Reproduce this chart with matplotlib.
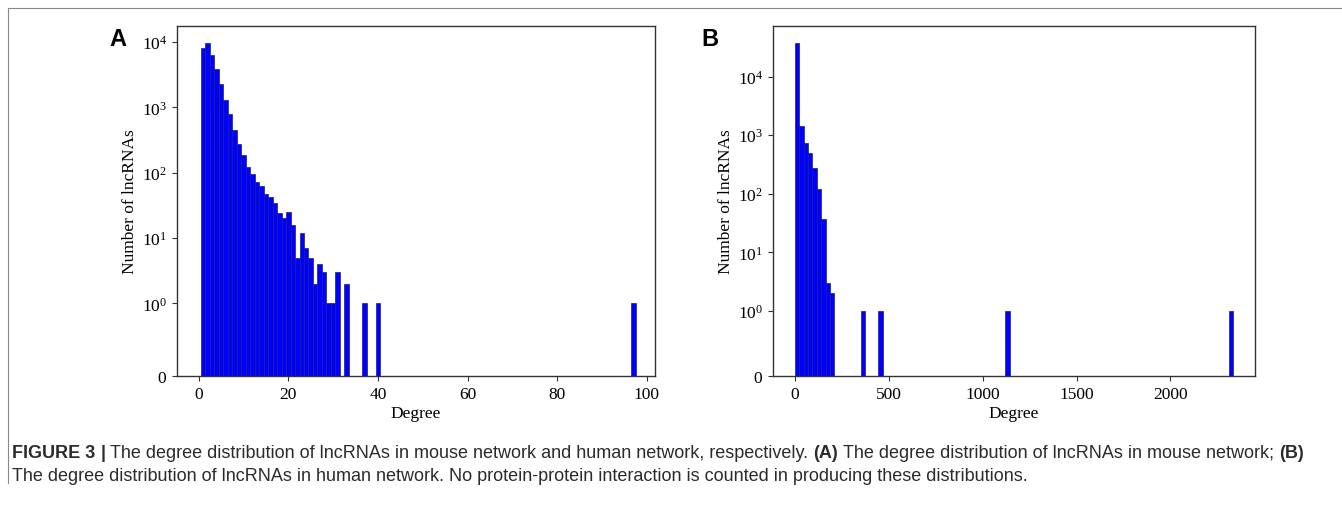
import matplotlib
matplotlib.use("Agg")
import matplotlib.pyplot as plt

# ---------------- data ----------------
mouse_degree = list(range(1, 32)) + [33, 37, 40, 97]
mouse_count = [8040, 9800, 6320, 3830, 2260, 1300, 784, 451, 272, 186,
               124, 95, 72, 63, 47, 43, 34, 24, 20, 25,
               16, 5, 12, 7, 5, 2, 4, 3, 1, 1,
               3, 2, 1, 1, 1]

human_bin_width = 23.33
human_bin_start = [0, 23.33, 46.67, 70.0, 93.33, 116.67, 140.0, 163.33, 186.67,
                   350.0, 443.33, 1120.0, 2310.0]
human_count = [38000, 1460, 730, 490, 276, 121, 37, 3, 2, 1, 1, 1, 1]

x_ticks_a = [0, 20, 40, 60, 80, 100]
x_ticks_b = [0, 500, 1000, 1500, 2000]

xlabel = "Degree"
ylabel = "Number of lncRNAs"
panel_labels = ["A", "B"]

caption_line1 = [("FIGURE 3", "bold"), ("|", "bold"),
                 ("The degree distribution of lncRNAs in mouse network and human network, respectively.", "normal"),
                 ("(A)", "bold"),
                 ("The degree distribution of lncRNAs in mouse network;", "normal"),
                 ("(B)", "bold")]
caption_line2 = [("The degree distribution of lncRNAs in human network. No protein-protein interaction is counted in producing these distributions.", "normal")]

# ---------------- style ----------------
serif = "Liberation Serif"
plt.rcParams["font.family"] = [serif, "DejaVu Serif"]
plt.rcParams["mathtext.fontset"] = "custom"
plt.rcParams["mathtext.rm"] = serif
plt.rcParams["mathtext.it"] = serif + ":italic"
plt.rcParams["mathtext.bf"] = serif + ":bold"

W, H = 1342, 506
fig = plt.figure(figsize=(W / 100, H / 100), dpi=100)

def px_axes(l, t, r, b):
    return fig.add_axes([l / W, 1 - b / H, (r - l) / W, (b - t) / H])

axA = px_axes(177, 27, 655, 377)
axB = px_axes(773, 27, 1255, 377)

bar_color = "#0000ff"
edge_color = "#1c1c7a"
tick_fs = 12.5

axA.bar(mouse_degree, mouse_count, width=1.0, color=bar_color,
        edgecolor=edge_color, linewidth=0.5)
axA.set_yscale("symlog", linthresh=1)
axA.set_xlim(-4.85, 101.85)
axA.set_xticks(x_ticks_a)

axB.bar(human_bin_start, human_count, width=human_bin_width, align="edge",
        color=bar_color, edgecolor=edge_color, linewidth=0.5)
axB.set_yscale("symlog", linthresh=1)
axB.set_xticks(x_ticks_b)

for ax in (axA, axB):
    ax.set_xlabel(xlabel, fontsize=tick_fs, labelpad=2)
    ax.set_ylabel(ylabel, fontsize=tick_fs, labelpad=3)
    ax.tick_params(axis="both", labelsize=tick_fs, length=3.5, width=0.8,
                   color="#333333")
    ax.minorticks_off()
    for s in ax.spines.values():
        s.set_color("#333333")
        s.set_linewidth(1.0)

fig.text(118 / W, 1 - 39 / H, panel_labels[0], fontsize=17, fontweight="bold",
         family=["Liberation Sans", "DejaVu Sans"], ha="center", va="center")
fig.text(710 / W, 1 - 39 / H, panel_labels[1], fontsize=17, fontweight="bold",
         family=["Liberation Sans", "DejaVu Sans"], ha="center", va="center")

# frame lines
fig.add_artist(plt.Line2D([8 / W, 1], [1 - 9 / H, 1 - 9 / H], color="#888888",
                          linewidth=0.8, transform=fig.transFigure))
fig.add_artist(plt.Line2D([8 / W, 8 / W], [1 - 9 / H, 1 - 484 / H],
                          color="#888888", linewidth=0.8,
                          transform=fig.transFigure))

# caption
cap_family = ["Liberation Sans", "DejaVu Sans"]
cap_color = "#2b2b2b"
renderer = fig.canvas.get_renderer()

def text_w(s, weight, fs):
    t = fig.text(0, 0, s, fontsize=fs, fontweight=weight, family=cap_family)
    w = t.get_window_extent(renderer).width
    t.remove()
    return w

def runs_width(runs, fs):
    total = 0
    for i, (s, wt) in enumerate(runs):
        total += text_w(s, wt, fs)
        if i < len(runs) - 1:
            total += text_w("x x", wt, fs) - text_w("xx", wt, fs)
    return total

def draw_runs(x_px, base_px, runs, fs):
    for i, (s, wt) in enumerate(runs):
        t = fig.text(x_px / W, 1 - base_px / H, s, fontsize=fs,
                     fontweight=wt, family=cap_family, color=cap_color,
                     va="baseline", ha="left")
        x_px += t.get_window_extent(renderer).width
        x_px += text_w("x x", wt, fs) - text_w("xx", wt, fs)
    return x_px

target = 1296.0
base_fs = 10.0
cap_fs = base_fs * target / runs_width(caption_line1, base_fs)

draw_runs(12, 458, caption_line1, cap_fs)
draw_runs(12, 481, caption_line2, cap_fs)

fig.savefig("out.png", dpi=100)
